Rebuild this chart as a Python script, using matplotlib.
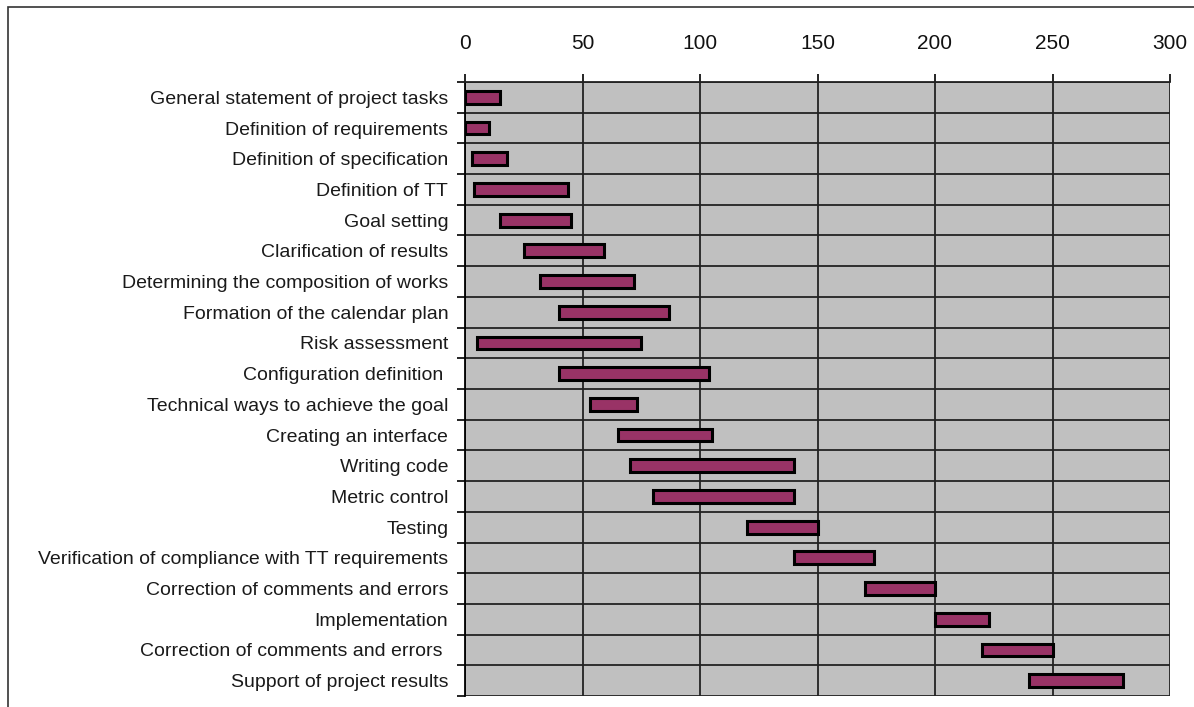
import matplotlib.pyplot as plt
import numpy as np
from matplotlib.patches import Rectangle

plt.rcParams['font.family'] = ['Liberation Sans', 'DejaVu Sans']

tasks = ["General statement of project tasks", "Definition of requirements",
         "Definition of specification", "Definition of TT", "Goal setting",
         "Clarification of results", "Determining the composition of works",
         "Formation of the calendar plan", "Risk assessment",
         "Configuration definition ", "Technical ways to achieve the goal",
         "Creating an interface", "Writing code", "Metric control", "Testing",
         "Verification of compliance with TT requirements",
         "Correction of comments and errors", "Implementation",
         "Correction of comments and errors ", "Support of project results"]
start = [0, 0, 3, 4, 15, 25, 32, 40, 5, 40, 53, 65, 70, 80, 120, 140, 170, 200, 220, 240]
finish = [15, 10, 18, 44, 45, 59, 72, 87, 75, 104, 73, 105, 140, 140, 150, 174, 200, 223, 250, 280]
xticks = [0, 50, 100, 150, 200, 250, 300]

start = np.array(start)
finish = np.array(finish)
n = len(tasks)
ypos = np.arange(n)

fig = plt.figure(figsize=(11.94, 7.07), dpi=100)
ax = fig.add_axes([465 / 1194, 1 - 696 / 707, 705 / 1194, (696 - 82) / 707])
ax.set_facecolor('#c0c0c0')

ax.barh(ypos, finish - start, left=start, height=0.42, color='#993366',
        edgecolor='black', linewidth=2.2, zorder=3)

ax.set_xlim(0, 300)
ax.set_ylim(n - 0.5, -0.5)
ax.xaxis.tick_top()
ax.set_xticks(xticks)
ax.tick_params(axis='x', which='major', length=6, width=1.2, pad=15,
               labelsize=15, labelcolor='#111111')
ax.set_yticks(ypos)
ax.set_yticklabels(tasks)
ax.tick_params(axis='y', which='major', length=0, pad=12, labelsize=14,
               labelcolor='#1a1a1a')
ax.set_yticks(np.arange(n + 1) - 0.5, minor=True)
ax.tick_params(axis='y', which='minor', length=6, width=1.2)

ax.grid(axis='x', which='major', color='#222222', linewidth=1.3, zorder=1)
ax.grid(axis='y', which='minor', color='#222222', linewidth=1.3, zorder=1)
ax.set_axisbelow(True)

for s in ['right', 'bottom']:
    ax.spines[s].set_visible(False)
ax.spines['left'].set_linewidth(1.3)
ax.spines['top'].set_linewidth(1.3)
ax.spines['top'].set_color('#222222')

# outer frame of the chart area
fig.patches.append(Rectangle((8 / 1194, -0.1), 1.2, (707 - 7) / 707 + 0.1,
                             transform=fig.transFigure, fill=False,
                             edgecolor='#333333', linewidth=1.2))

fig.savefig('out.png', dpi=100)
